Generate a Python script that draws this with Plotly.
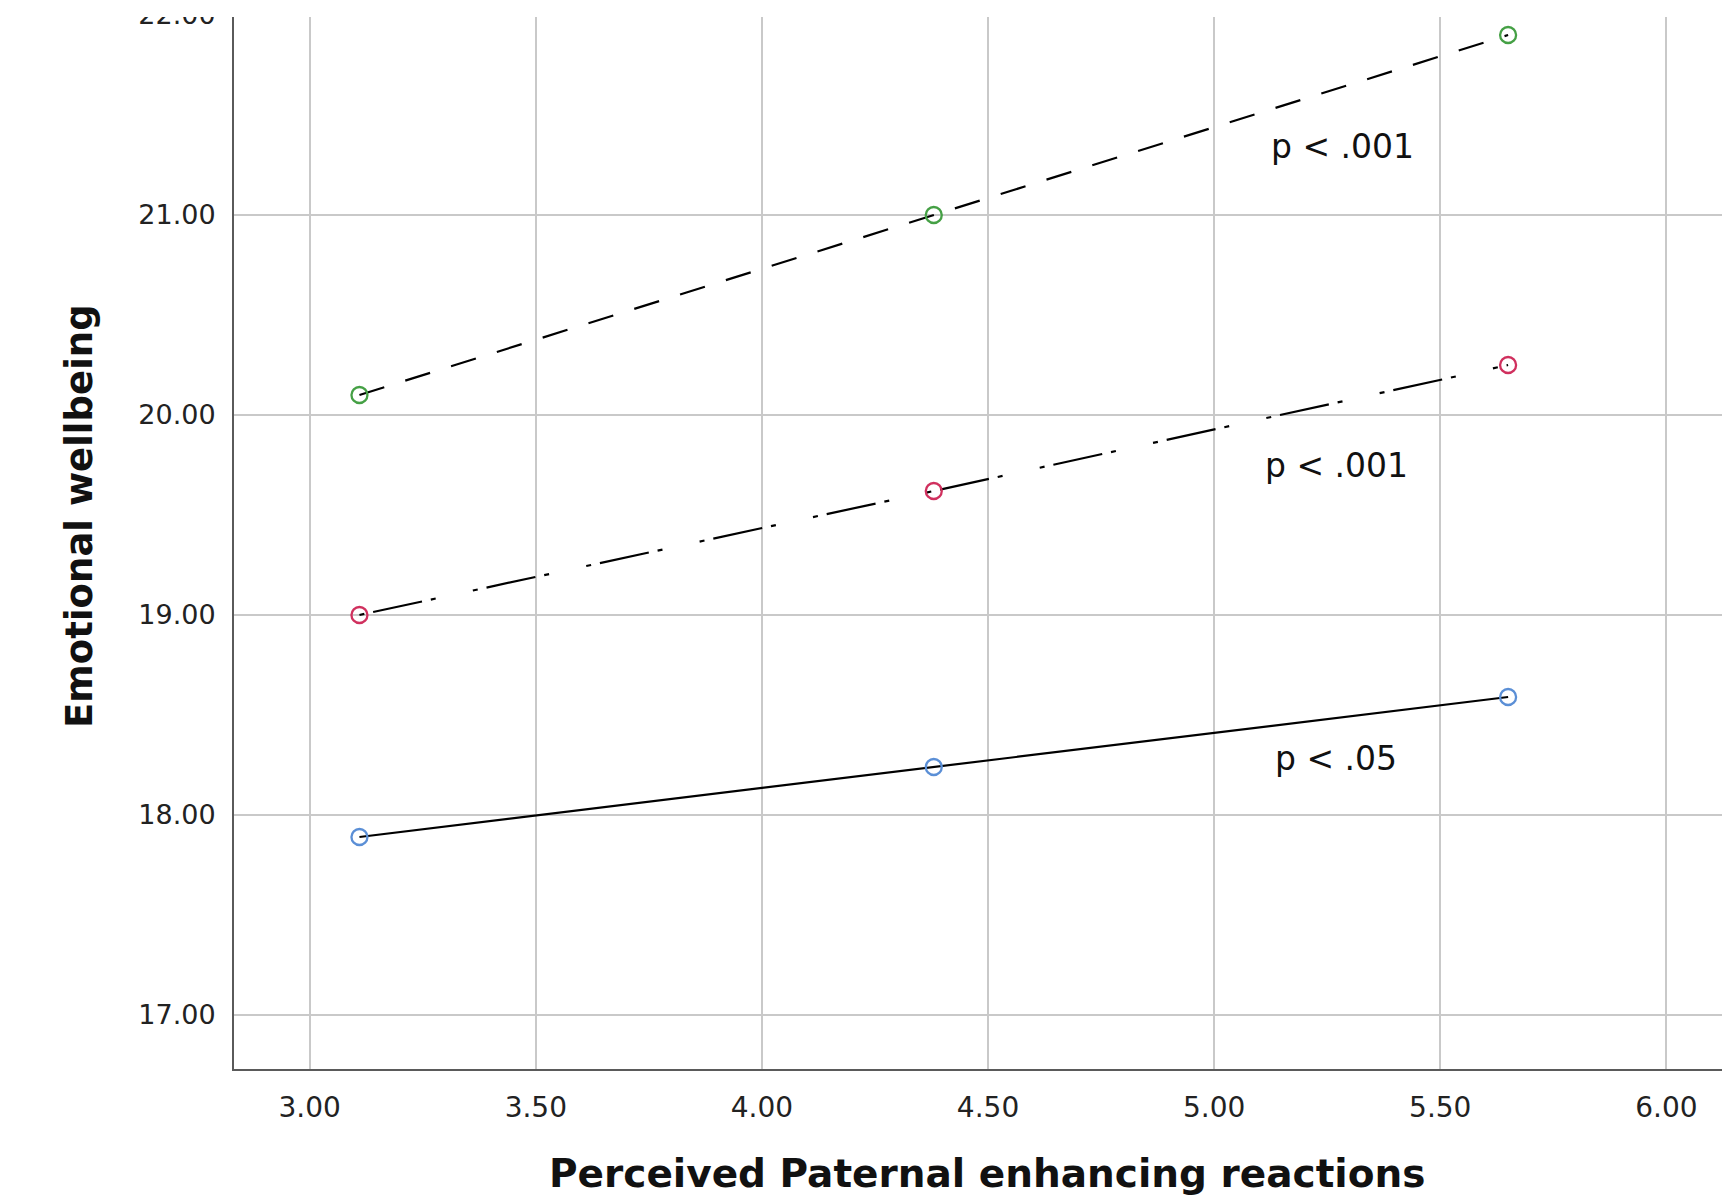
import plotly.graph_objects as go

# Data
x_levels = [3.11, 4.38, 5.65]
low_group = [17.89, 18.24, 18.59]      # blue, solid
mid_group = [19.00, 19.62, 20.25]      # red, dash-dot
high_group = [20.10, 21.00, 21.90]     # green, dashed

x_ticks = [3.0, 3.5, 4.0, 4.5, 5.0, 5.5, 6.0]
x_tick_labels = ["3.00", "3.50", "4.00", "4.50", "5.00", "5.50", "6.00"]
y_ticks = [17, 18, 19, 20, 21, 22]
y_tick_labels = ["17.00", "18.00", "19.00", "20.00", "21.00", "22.00"]

p_labels = ["p < .001", "p < .001", "p < .05"]
p_x = [5.283, 5.27, 5.27]
p_y = [21.345, 19.75, 18.285]

x_title = "Perceived Paternal enhancing reactions"
y_title = "Emotional wellbeing"

W, H = 1722, 1198
ML, MB, MT, MR = 234, 129, 0, 0

fig = go.Figure()

series = [
    (low_group, "solid", "#5b8fd6"),
    (mid_group, "5px,9px,50px,9px,5px,38px", "#d0305e"),
    (high_group, "26px,22px", "#45a045"),
]
for ys, dash, col in series:
    fig.add_trace(go.Scatter(
        x=x_levels, y=ys, mode="lines+markers",
        line=dict(color="black", width=2.2, dash=dash),
        marker=dict(symbol="circle-open", size=16, color=col,
                    line=dict(color=col, width=2.3)),
        showlegend=False, hoverinfo="skip"))

for t, px, py in zip(p_labels, p_x, p_y):
    fig.add_annotation(x=px, y=py, xref="x", yref="y", text=t, showarrow=False,
                       font=dict(family="DejaVu Sans", size=33, color="#111"))

plot_h = H - MB - MT
plot_w = W - ML - MR
# white band at the very top (chart is cropped there)
fig.add_shape(type="rect", xref="paper", yref="paper",
              x0=-ML / plot_w, x1=1.0, y0=1 - 17 / plot_h, y1=1.0,
              fillcolor="white", line=dict(width=0), layer="above")

fig.add_annotation(xref="paper", yref="paper",
                   x=(987 - ML) / plot_w, y=-(1173 - (H - MB)) / plot_h,
                   xanchor="center", yanchor="middle",
                   text="<b>" + x_title + "</b>", showarrow=False,
                   font=dict(family="DejaVu Sans", size=39, color="#111"))
fig.add_annotation(xref="paper", yref="paper",
                   x=-(ML - 79) / plot_w, y=1 - 516 / plot_h,
                   xanchor="center", yanchor="middle",
                   text="<b>" + y_title + "</b>", showarrow=False, textangle=-90,
                   font=dict(family="DejaVu Sans", size=37, color="#111"))

fig.update_layout(
    width=W, height=H,
    margin=dict(l=ML, r=MR, t=MT, b=MB),
    paper_bgcolor="white", plot_bgcolor="white",
    xaxis=dict(range=[2.8326, 6.123], tickvals=x_ticks, ticktext=x_tick_labels,
               showgrid=True, gridcolor="#c9c9c9", gridwidth=2,
               showline=True, linecolor="#5a5a5a", linewidth=2,
               ticks="", ticklabelstandoff=12, zeroline=False,
               tickfont=dict(family="DejaVu Sans", size=28, color="#222")),
    yaxis=dict(range=[16.73, 22.075], tickvals=y_ticks, ticktext=y_tick_labels,
               showgrid=True, gridcolor="#c9c9c9", gridwidth=2,
               showline=True, linecolor="#5a5a5a", linewidth=2,
               ticks="", ticklabelstandoff=11, zeroline=False,
               ticklabeloverflow="allow",
               tickfont=dict(family="DejaVu Sans", size=27, color="#222")),
)

fig.write_html("out.html")
